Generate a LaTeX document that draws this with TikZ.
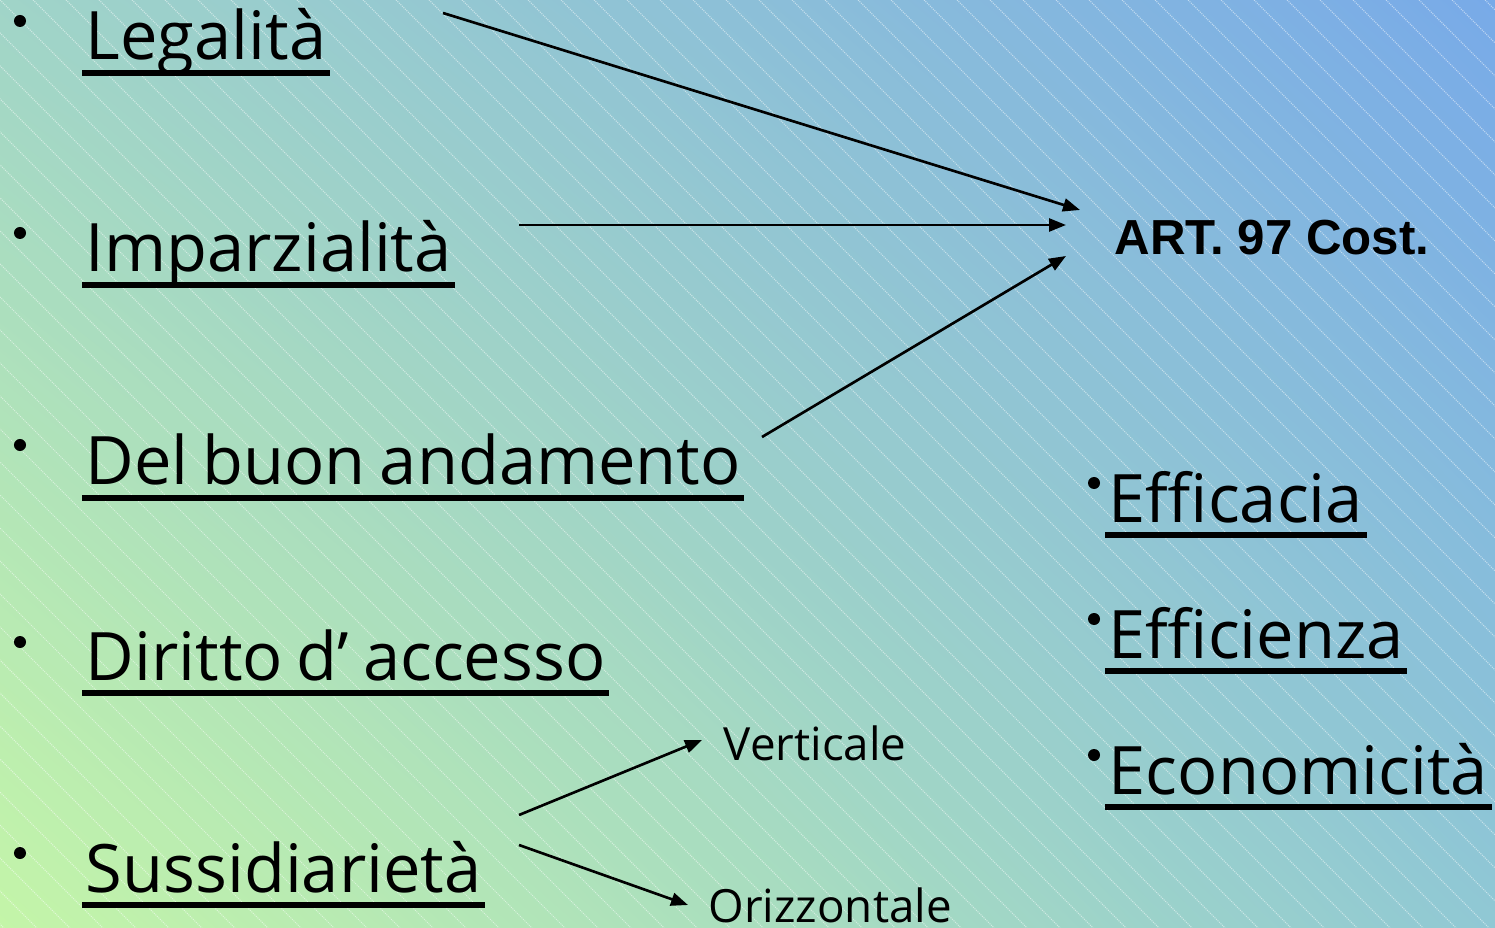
\documentclass[tikz,border=0pt]{standalone}
\usepackage{fontspec}
\usetikzlibrary{positioning, arrows.meta, calc, shadings}
\setmainfont{Open Sans}[WordSpace=0.8]
\newfontfamily\artfont{Liberation Sans}
\definecolor{bgGreen}{HTML}{C4F5A8}
\definecolor{bgBlue}{HTML}{78AAE8}
\definecolor{bgTeal}{HTML}{A0D4C8}
\definecolor{bgSea}{HTML}{90C8D4}

\begin{document}
\begin{tikzpicture}[
    x=0.01cm, y=-0.01cm,
    item/.style={anchor=base west, inner sep=0pt, font=\fontsize{19}{23}\selectfont},
    subitem/.style={anchor=base west, inner sep=0pt, font=\fontsize{13}{16}\selectfont},
    title/.style={anchor=base west, inner sep=0pt, font=\artfont\bfseries\fontsize{14}{17}\selectfont},
    dot/.style={circle, fill=black, inner sep=0pt, minimum size=0.12cm},
    uline/.style={line width=0.055cm},
    link/.style={-{Triangle[length=0.17cm, width=0.13cm]}, line width=0.75pt},
    hatch/.style={white, opacity=0.5, line width=0.3pt, dash pattern=on 0.3pt off 0.3pt}
]
    \useasboundingbox (0,0) rectangle (1495,928);

    % Background
    \shade[upper left=bgTeal, upper right=bgBlue, lower left=bgGreen, lower right=bgSea]
        (0,0) rectangle (1495,928);
    \begin{scope}
        \clip (0,0) rectangle (1495,928);
        \foreach \x in {-957,-924,...,1518}
            \draw[hatch] (\x,0) -- ++(928,928);
    \end{scope}

    % Principles
    \node[item] (leg) at (85,60) {Legalità};
    \node[item] (imp) at (85,272) {Imparzialità};
    \node[item] (buon) at (85,485) {Del buon andamento};
    \node[item] (dir) at (85,680) {Diritto d’ accesso};
    \node[item] (sus) at (85,892) {Sussidiarietà};
    \foreach \y [count=\k] in {21,233,445,642,853}
        \node[dot] (bl\k) at (20,\y) {};

    \node[title] (art) at (1114,255) {ART. 97 Cost.};

    \node[item] (effa) at (1108,522) {Efficacia};
    \node[item] (effi) at (1108,658) {Efficienza};
    \node[item] (eco) at (1108,794) {Economicità};
    \foreach \y [count=\k] in {483,619,755}
        \node[dot] (br\k) at (1094,\y) {};

    \node[subitem] (vert) at (723,760) {Verticale};
    \node[subitem] (oriz) at (708,922) {Orizzontale};

    % Underlines
    \foreach \n in {leg,imp,buon,dir,sus,effa,effi,eco}
        \draw[uline] ($(\n.base west)+(-3,13)$) -- ($(\n.base east)+(3,13)$);

    % Arrows
    \draw[link] ($(leg.base west)+(358,-47)$) -- ($(art.base west)+(-34,-45)$);
    \draw[link] ($(imp.base west)+(434,-47)$) -- ($(art.base west)+(-48,-30)$);
    \draw[link] ($(buon.base west)+(677,-48)$) -- ($(art.base west)+(-48,1)$);
    \draw[link] ($(sus.base west)+(434,-77)$) -- ($(vert.base west)+(-21,-20)$);
    \draw[link] ($(sus.base west)+(434,-47)$) -- ($(oriz.base west)+(-20,-17)$);
\end{tikzpicture}
\end{document}
